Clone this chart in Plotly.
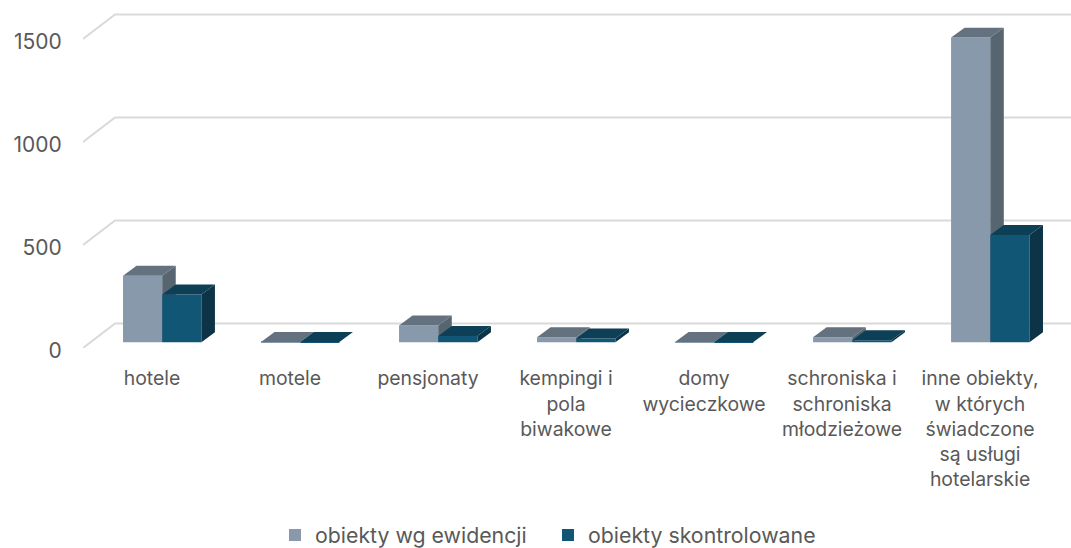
import plotly.graph_objects as go

categories = ["hotele", "motele", "pensjonaty", "kempingi i<br>pola<br>biwakowe", "domy<br>wycieczkowe",
              "schroniska i<br>schroniska<br>młodzieżowe",
              "inne obiekty,<br>w których<br>świadczone<br>są usługi<br>hotelarskie"]
series_names = ["obiekty wg ewidencji", "obiekty skontrolowane"]
evidence = [323, 2, 81, 24, 1, 24, 1479]
inspected = [232, 1, 31, 19, 1, 10, 521]
y_ticks = [0, 500, 1000, 1500]

TEXT = "#595959"
GRID = "#D9D9D9"
FONT = "Inter"
C1 = dict(front="#8799AB", top="#64727F", side="#566570")
C2 = dict(front="#125676", top="#0D3F56", side="#0C3446")

Y_MAX = 348 / 0.206
X_RANGE = [-0.5, 6.659]
BAR_W = 0.284
BAR_OFF = -0.21
BASE = 27.7
DX, DY = 0.098, 48.5          # bar depth in axis units
WALL_DX, WALL_DY = 0.232, 119 # wall depth in axis units

idx = list(range(len(categories)))
fig = go.Figure()

# back wall gridlines
gx, gy = [], []
for t in y_ticks:
    gx += [-0.5, -0.5 + WALL_DX, X_RANGE[1], None]
    gy += [t, t + WALL_DY, t + WALL_DY, None]
fig.add_trace(go.Scatter(x=gx, y=gy, mode="lines", line=dict(color=GRID, width=2),
                         showlegend=False, hoverinfo="skip"))


def add_series(values, name, offset, colors, ax):
    xa, ya = ("x" + ax, "y" + ax)
    fig.add_trace(go.Bar(x=idx, y=values, base=BASE, width=BAR_W, offset=offset, name=name,
                         marker=dict(color=colors["front"], line=dict(width=0)), xaxis=xa, yaxis=ya))
    sx, sy, tx, ty = [], [], [], []
    for c, v in zip(idx, values):
        l, r = c + offset, c + offset + BAR_W
        t = BASE + v
        sx += [r, r + DX, r + DX, r, r, None]
        sy += [BASE, BASE + DY, t + DY, t, BASE, None]
        tx += [l, l + DX, r + DX, r, l, None]
        ty += [t, t + DY, t + DY, t, t, None]
    for px, py, col in ((sx, sy, colors["side"]), (tx, ty, colors["top"])):
        fig.add_trace(go.Scatter(x=px, y=py, mode="lines", fill="toself", fillcolor=col,
                                 line=dict(width=0, color=col), showlegend=False,
                                 hoverinfo="skip", xaxis=xa, yaxis=ya))


add_series(evidence, series_names[0], BAR_OFF, C1, "2")
add_series(inspected, series_names[1], BAR_OFF + BAR_W, C2, "3")

hidden = dict(visible=False, fixedrange=True)
fig.update_layout(
    width=1071, height=548, autosize=False,
    margin=dict(l=83, r=0, t=0, b=200, autoexpand=False),
    paper_bgcolor="white", plot_bgcolor="white",
    barmode="overlay",
    font=dict(family=FONT, size=20, color=TEXT),
    xaxis=dict(range=X_RANGE, tickmode="array", tickvals=idx, ticktext=categories,
               showgrid=False, zeroline=False, showline=False, ticks="outside", ticklen=13,
               tickcolor="rgba(0,0,0,0)", tickangle=0, tickfont=dict(size=19.4, color=TEXT)),
    yaxis=dict(range=[0, Y_MAX], tickmode="array", tickvals=y_ticks, showgrid=False,
               zeroline=False, showline=False, ticks="outside", ticklen=16, ticklabelshift=3,
               tickcolor="rgba(0,0,0,0)", tickfont=dict(size=21, color=TEXT)),
    xaxis2=dict(range=X_RANGE, overlaying="x", **hidden),
    yaxis2=dict(range=[0, Y_MAX], overlaying="y", **hidden),
    xaxis3=dict(range=X_RANGE, overlaying="x", **hidden),
    yaxis3=dict(range=[0, Y_MAX], overlaying="y", **hidden),
    legend=dict(orientation="h", xref="container", x=275 / 1071, xanchor="left",
                yref="paper", y=-0.538, yanchor="middle", font=dict(size=21.3, color=TEXT), itemwidth=30,
                entrywidth=228, entrywidthmode="pixels", bgcolor="rgba(0,0,0,0)"),
)
fig.write_html("out.html", config=dict(displayModeBar=False),
               post_script="document.body.style.margin='0';document.body.style.overflow='hidden';")
